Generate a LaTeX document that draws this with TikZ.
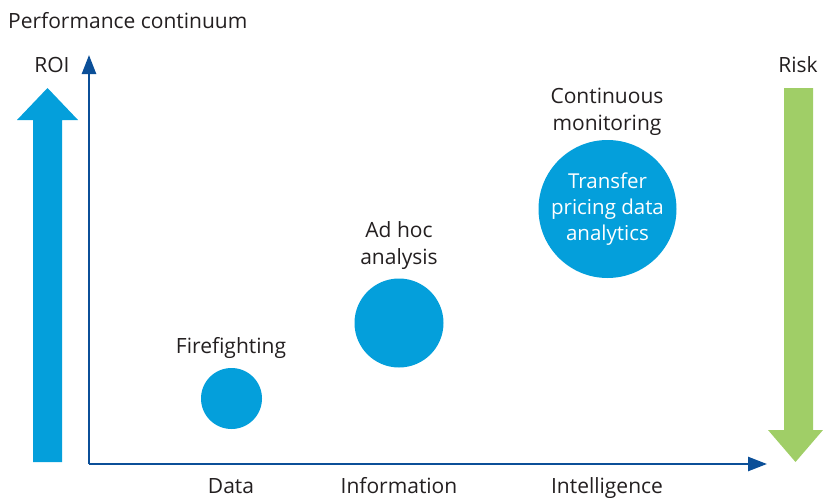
\documentclass[tikz,border=0pt]{standalone}
\usepackage{fontspec}
\setmainfont{Open Sans}
\usetikzlibrary{arrows.meta}

\definecolor{roiblue}{HTML}{049FDB}
\definecolor{axisblue}{HTML}{0B4F98}
\definecolor{riskgreen}{HTML}{A0CE67}
\definecolor{txtgray}{HTML}{231F20}

\tikzset{
    lbl/.style={text=txtgray, font=\fontsize{21}{27}\selectfont, inner sep=0pt},
    stage/.style={lbl, align=center},
    dot/.style={circle, fill=roiblue, inner sep=0pt},
}

\begin{document}
\begin{tikzpicture}[x=1pt, y=-1pt]
    \useasboundingbox (0, 0) rectangle (823, 498);

    \coordinate (O) at (89, 464);
    \coordinate (Ytop) at (89, 55);
    \coordinate (Xend) at (767, 464);

    % ROI and risk arrows
    \fill[roiblue] (33, 462) -- (33, 120) -- (17, 120) -- (47.5, 88) -- (78, 120) -- (62, 120) -- (62, 462) -- cycle;
    \fill[riskgreen] (784, 88) -- (813, 88) -- (813, 430) -- (823, 430) -- (795.5, 462) -- (768, 430) -- (784, 430) -- cycle;

    % axes
    \draw[axisblue, line width=2.5pt, -{Triangle[length=19pt, width=14pt]}] (O) -- (Ytop);
    \draw[axisblue, line width=2.5pt, -{Triangle[length=19pt, width=14pt]}] (O) -- (Xend);

    \node[lbl, anchor=base west] (title) at (8, 28) {Performance continuum};
    \node[lbl, anchor=base] (roi) at (52, 72) {ROI};
    \node[lbl, anchor=base] (risk) at (798, 72) {Risk};

    % stages
    \node[dot, minimum size=61pt] (c1) at (231.5, 398.5) {};
    \node[dot, minimum size=89pt] (c2) at (399, 323) {};
    \node[dot, minimum size=138pt, text=white, font=\fontsize{20.5}{26}\selectfont, align=center] (c3) at (607.5, 209) {Transfer\\pricing data\\analytics};

    \node[lbl, anchor=base] (fire) at (231, 353) {Firefighting};
    \node[stage] (adhoc) at (399, 246) {Ad hoc\\analysis};
    \node[stage] (cont) at (607, 112) {Continuous\\monitoring};

    \node[lbl, anchor=base] (data) at (231, 493) {Data};
    \node[lbl, anchor=base] (info) at (399, 493) {Information};
    \node[lbl, anchor=base] (intel) at (607, 493) {Intelligence};
\end{tikzpicture}
\end{document}
